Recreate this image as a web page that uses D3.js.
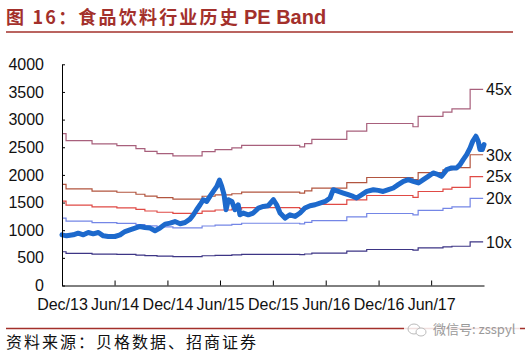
<!DOCTYPE html>
<html>
<head>
<meta charset="utf-8">
<script src="https://cdn.jsdelivr.net/npm/d3@7"></script>
<style>
  body { margin: 0; background: #fff; }
  svg { display: block; }
  .axis text { font-family: "Liberation Sans", Arial, sans-serif; font-size: 16px; fill: #111; }
</style>
</head>
<body>
<svg width="532" height="355"></svg>
<script>
// x axis labels (half-year ticks)
var tickDates = ["2013-12-01", "2014-06-01", "2014-12-01", "2015-06-01",
                 "2015-12-01", "2016-06-01", "2016-12-01", "2017-06-01"];
var tickLabels = ["Dec/13", "Jun/14", "Dec/14", "Jun/15", "Dec/15", "Jun/16", "Dec/16", "Jun/17"];
var yTicks = [0, 500, 1000, 1500, 2000, 2500, 3000, 3500, 4000];

// trailing EPS steps behind the PE bands
var epsDates = ["2013-12-01", "2013-12-15", "2014-03-15", "2014-06-09", "2014-08-14",
                "2014-09-14", "2014-10-26", "2014-12-20", "2015-03-31", "2015-05-15",
                "2015-07-12", "2015-08-15", "2016-03-03", "2016-03-20", "2016-04-14",
                "2016-08-13", "2016-10-21", "2017-03-30", "2017-04-17", "2017-07-12",
                "2017-08-12", "2017-10-14", "2017-11-28"];
var epsValues = [61.0, 58.2, 56.9, 56.2, 55.0,
                 53.9, 53.0, 52.1, 53.8, 54.6,
                 55.3, 56.3, 55.7, 57.0, 58.7,
                 62.0, 65.1, 63.8, 68.0, 69.7,
                 71.0, 78.8, 78.8];
var multiples = [10, 20, 25, 30, 45];
var bandNames = ["10x", "20x", "25x", "30x", "45x"];

// industry index
var priceDates = ["2013-12-01", "2013-12-17", "2014-01-09", "2014-01-26", "2014-02-13",
  "2014-03-02", "2014-03-19", "2014-04-06", "2014-04-23", "2014-05-10", "2014-06-02",
  "2014-06-20", "2014-07-07", "2014-07-24", "2014-08-11", "2014-08-28", "2014-09-14",
  "2014-10-02", "2014-10-19", "2014-11-05", "2014-11-23", "2014-12-10", "2014-12-27",
  "2015-01-14", "2015-01-31", "2015-02-17", "2015-03-01", "2015-03-12", "2015-03-24",
  "2015-04-04", "2015-04-16", "2015-04-27", "2015-05-09", "2015-05-21", "2015-05-30",
  "2015-06-07", "2015-06-15", "2015-06-22", "2015-06-30", "2015-07-12", "2015-07-23",
  "2015-08-03", "2015-08-09", "2015-08-21", "2015-09-07", "2015-09-24", "2015-10-12",
  "2015-10-29", "2015-11-15", "2015-12-03", "2015-12-14", "2015-12-26", "2016-01-12",
  "2016-01-29", "2016-02-16", "2016-03-04", "2016-03-21", "2016-04-08", "2016-04-25",
  "2016-05-12", "2016-05-30", "2016-06-16", "2016-06-27", "2016-07-15", "2016-08-01",
  "2016-08-18", "2016-09-04", "2016-09-16", "2016-10-04", "2016-10-21", "2016-11-13",
  "2016-11-30", "2016-12-17", "2017-01-04", "2017-01-21", "2017-02-07", "2017-02-25",
  "2017-03-14", "2017-03-31", "2017-04-18", "2017-05-05", "2017-05-22", "2017-06-08",
  "2017-06-26", "2017-07-07", "2017-07-25", "2017-08-11", "2017-08-28", "2017-09-09",
  "2017-09-20", "2017-10-02", "2017-10-14", "2017-10-23", "2017-11-03", "2017-11-11",
  "2017-11-17", "2017-11-25", "2017-12-01"];
var priceValues = [916, 898, 916, 947, 916,
  958, 934, 958, 898, 886, 886,
  916, 976, 1007, 1038, 1067, 1049,
  1038, 989, 1038, 1110, 1128, 1157,
  1116, 1139, 1201, 1279, 1370, 1460,
  1551, 1520, 1611, 1701, 1792, 1905,
  1792, 1642, 1370, 1551, 1520, 1370,
  1460, 1279, 1310, 1279, 1310, 1400,
  1430, 1442, 1551, 1460, 1310, 1219,
  1279, 1249, 1310, 1400, 1442, 1460,
  1491, 1520, 1582, 1732, 1701, 1672,
  1642, 1611, 1582, 1642, 1701, 1732,
  1720, 1701, 1732, 1763, 1823, 1883,
  1914, 1883, 1854, 1914, 1974, 2035,
  2004, 1974, 2095, 2126, 2126, 2186,
  2276, 2367, 2489, 2608, 2699, 2608,
  2458, 2458, 2548];

var bandColors = ["#3d3585", "#7486e6", "#e04a45", "#b2553f", "#a8607c"];
var titleRed = "#a3302b";

var parse = d3.timeParse("%Y-%m-%d");
var svg = d3.select("svg");

// title + rule
var title = svg.append("text")
    .attr("x", 6)
    .attr("y", 24)
    .attr("font-weight", "bold")
    .attr("fill", titleRed);
title.append("tspan")
    .attr("font-family", "'Noto Sans CJK SC', sans-serif")
    .attr("font-size", "18px")
    .attr("letter-spacing", "2.2px")
    .text("图 16：食品饮料行业历史");
title.append("tspan")
    .attr("font-family", "'Liberation Sans', Arial, sans-serif")
    .attr("font-size", "20px")
    .attr("dx", 4)
    .text("PE Band");
svg.append("line")
    .attr("x1", 6).attr("x2", 513)
    .attr("y1", 32).attr("y2", 32)
    .attr("stroke", titleRed)
    .attr("stroke-width", 1.6);

var x = d3.scaleTime()
    .domain([parse("2013-12-01"), parse("2017-12-01")])
    .range([62, 484]);
var y = d3.scaleLinear()
    .domain([0, 4000])
    .range([285.5, 64.3]);

// PE bands
var bandLine = d3.line()
    .curve(d3.curveStepAfter)
    .x(function(d) { return x(d.date); })
    .y(function(d) { return y(d.value); });

multiples.forEach(function(m, i) {
    var pts = epsDates.map(function(d, j) {
        return { date: parse(d), value: epsValues[j] * m };
    });
    svg.append("path")
        .datum(pts)
        .attr("d", bandLine)
        .attr("fill", "none")
        .attr("stroke", bandColors[i])
        .attr("stroke-width", 1.2);

    svg.append("text")
        .attr("x", 486)
        .attr("y", y(pts[pts.length - 1].value))
        .attr("dy", "0.36em")
        .attr("font-family", "'Liberation Sans', Arial, sans-serif")
        .attr("font-size", "16px")
        .attr("fill", "#111")
        .text(bandNames[i]);
});

// index line
var priceLine = d3.line()
    .x(function(d, i) { return x(parse(priceDates[i])); })
    .y(function(d) { return y(d); });

svg.append("path")
    .datum(priceValues)
    .attr("d", priceLine)
    .attr("fill", "none")
    .attr("stroke", "#1d69cc")
    .attr("stroke-width", 5)
    .attr("stroke-linejoin", "round")
    .attr("stroke-linecap", "round");

// axes, ticks pointing inward
var yAxis = d3.axisLeft(y)
    .tickValues(yTicks)
    .tickSize(-3)
    .tickSizeOuter(0)
    .tickPadding(18)
    .tickFormat(d3.format("d"));
svg.append("g")
    .attr("class", "axis")
    .attr("transform", "translate(62,0)")
    .call(yAxis);

var xAxis = d3.axisBottom(x)
    .tickValues(tickDates.map(parse))
    .tickSize(-5)
    .tickSizeOuter(0)
    .tickFormat(function(d, i) { return tickLabels[i]; });
var gx = svg.append("g")
    .attr("class", "axis")
    .attr("transform", "translate(0,285.5)")
    .call(xAxis);
gx.selectAll("text").attr("y", 13);

svg.selectAll(".axis path, .axis line")
    .attr("stroke", "#000")
    .attr("stroke-width", 1);

// footer rule + source
svg.append("line")
    .attr("x1", 6).attr("x2", 525)
    .attr("y1", 328.5).attr("y2", 328.5)
    .attr("stroke", titleRed)
    .attr("stroke-width", 1.6);
svg.append("text")
    .attr("x", 6)
    .attr("y", 348)
    .attr("font-family", "'Noto Sans CJK SC', sans-serif")
    .attr("font-size", "16px")
    .attr("letter-spacing", "2px")
    .attr("fill", "#111")
    .text("资料来源：贝格数据、招商证券");

// watermark
var wm = svg.append("g");
wm.append("rect")
    .attr("x", 404).attr("y", 321)
    .attr("width", 116).attr("height", 17)
    .attr("fill", "#fff")
    .attr("opacity", 0.85);
wm.append("ellipse")
    .attr("cx", 414).attr("cy", 329)
    .attr("rx", 6).attr("ry", 5)
    .attr("fill", "none").attr("stroke", "#bbb").attr("stroke-width", 1);
wm.append("ellipse")
    .attr("cx", 421).attr("cy", 332)
    .attr("rx", 5).attr("ry", 4)
    .attr("fill", "#fff").attr("stroke", "#bbb").attr("stroke-width", 1);
wm.append("text")
    .attr("x", 433)
    .attr("y", 334)
    .attr("font-family", "'Noto Sans CJK SC', sans-serif")
    .attr("font-size", "13px")
    .attr("fill", "#999")
    .text("微信号: zsspyl");
</script>
</body>
</html>
